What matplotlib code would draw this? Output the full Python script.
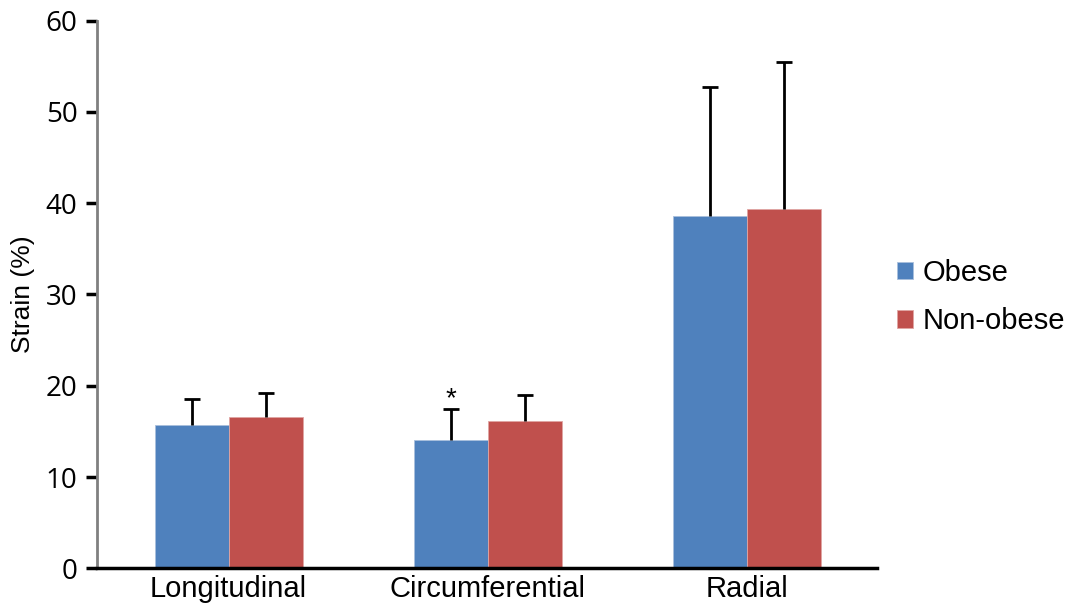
import numpy as np
import matplotlib
matplotlib.use('Agg')
import matplotlib.pyplot as plt

# valeurs
categories = ['Longitudinal', 'Circumferential', 'Radial']
obese = [15.7, 14.0, 38.6]
obese_err = [2.85, 3.4, 14.1]
non_obese = [16.6, 16.1, 39.3]
non_obese_err = [2.6, 2.9, 16.2]
groups = ['Obese', 'Non-obese']
yticks = [0, 10, 20, 30, 40, 50, 60]

blue = '#4f81bd'
red = '#c0504d'
w = 0.286

fig = plt.figure(figsize=(10.73, 6.12), dpi=100)
ax = fig.add_axes([0.0904, 0.0714, 0.7266, 0.8951])

x = np.arange(len(categories))
ax.bar(x - w/2, obese, w, color=blue, edgecolor='#a9bfdc', linewidth=0.6, label=groups[0], zorder=2)
ax.bar(x + w/2, non_obese, w, color=red, edgecolor='#e0a5a3', linewidth=0.6, label=groups[1], zorder=2)

# barres d'erreur vers le haut seulement (sans chapeau en bas)
for xs, vals, errs in [(x - w/2, obese, obese_err), (x + w/2, non_obese, non_obese_err)]:
    eb = ax.errorbar(xs, vals, yerr=[np.zeros(3), errs], fmt='none', ecolor='black',
                     elinewidth=2, capsize=6, capthick=2, zorder=3)
    eb[1][0].set_visible(False)

# etoile de significativite
ax.text(x[1] - w/2, 17.75, '*', ha='center', va='baseline',
        fontsize=20, family='Liberation Sans')

ax.set_xlim(-0.508, 2.5)
ax.set_ylim(0, 60)
ax.set_xticks(x)
ax.set_xticklabels(categories, fontsize=21, family='Liberation Sans')
ax.set_yticks(yticks)
ax.set_yticklabels([str(t) for t in yticks], fontsize=20, family='Open Sans')
ax.tick_params(axis='x', length=0, pad=5)
ax.tick_params(axis='y', length=8, width=2.5, color='black', pad=6)
ax.set_ylabel('Strain (%)', fontsize=19, family='Liberation Sans', labelpad=8)

for s in ['top', 'right']:
    ax.spines[s].set_visible(False)
ax.spines['left'].set_color('#808080')
ax.spines['left'].set_linewidth(2)
ax.spines['bottom'].set_color('black')
ax.spines['bottom'].set_linewidth(2.5)

leg = ax.legend(loc='center left', bbox_to_anchor=(0.992, 0.495), frameon=False,
                prop={'family': 'Liberation Sans', 'size': 21},
                handlelength=0.55, handleheight=0.55, handletextpad=0.35, labelspacing=0.7)

fig.savefig('out.png', dpi=100)
